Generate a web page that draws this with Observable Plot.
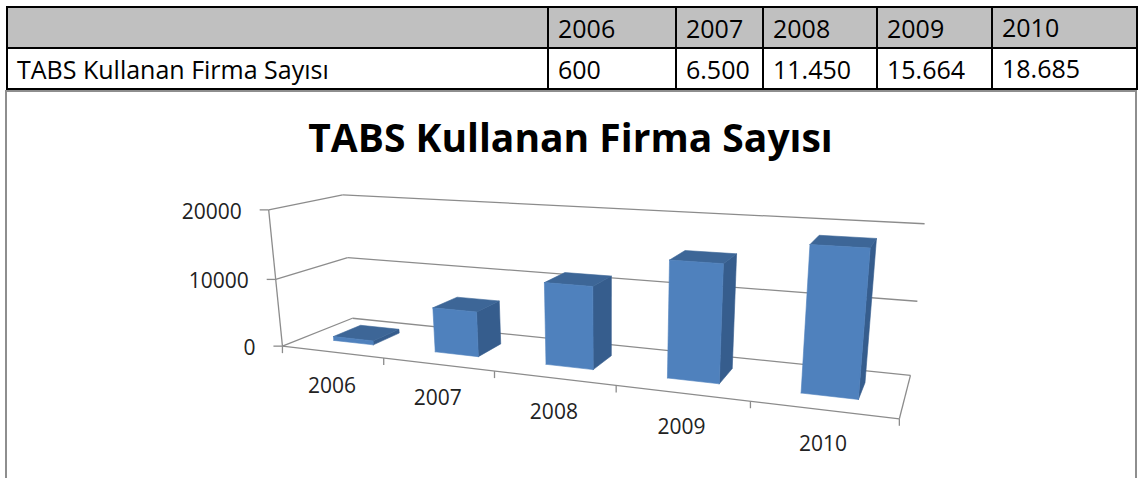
<!DOCTYPE html>
<html>
<head>
<meta charset="utf-8">
<script src="https://cdn.jsdelivr.net/npm/d3@7"></script>
<script src="https://cdn.jsdelivr.net/npm/@observablehq/plot@0.6"></script>
<style>
  html, body { margin: 0; padding: 0; background: #fff; width: 1141px; height: 478px; overflow: hidden; font-family: "Open Sans", sans-serif; }
  #tbl { position: absolute; left: 6px; top: 6px; border-collapse: collapse; table-layout: fixed; width: 1132px; z-index: 3; }
  #tbl td { border: 2px solid #000; padding: 0 0 0 9px; font-size: 25px; color: #000; white-space: nowrap; overflow: hidden; }
  #tbl tr { height: 41px; }
  #tbl tr.head td { background: #c0c0c0; }
  #box { position: absolute; left: 5px; top: 90px; width: 1128px; height: 400px; border: 2px solid #8e8e8e; z-index: 0; }
  #title { position: absolute; left: 0; top: 117px; width: 1141px; text-align: center; font-weight: 700; font-size: 39px; line-height: 1; color: #000; z-index: 2; }
  #chart { position: absolute; left: 0; top: 0; z-index: 1; }
</style>
</head>
<body>
<table id="tbl">
  <colgroup>
    <col style="width:541px"><col style="width:128px"><col style="width:87px"><col style="width:114px"><col style="width:115px"><col style="width:145px">
  </colgroup>
  <tbody></tbody>
</table>
<div id="box"></div>
<div id="title"></div>
<div id="chart"></div>
<script>
// ---- data ----
const seriesName = "TABS Kullanan Firma Sayısı";
const years = [2006, 2007, 2008, 2009, 2010];
const values = [600, 6500, 11450, 15664, 18685];
const yTicks = [0, 10000, 20000];

// ---- layout (3D frame calibration: world [X category units, Y value, Z depth] -> page px) ----
const frameAnchors = [
  {X: 0, Y: 0, Z: 0, u: 282, v: 346},
  {X: 0, Y: 10000, Z: 0, u: 276, v: 279},
  {X: 0, Y: 20000, Z: 0, u: 268, v: 209},
  {X: 1, Y: 0, Z: 0, u: 383, v: 358},
  {X: 2, Y: 0, Z: 0, u: 493, v: 370},
  {X: 3, Y: 0, Z: 0, u: 616, v: 385},
  {X: 4, Y: 0, Z: 0, u: 750, v: 401},
  {X: 5, Y: 0, Z: 0, u: 899, v: 418},
  {X: 0, Y: 0, Z: 1, u: 352, v: 318},
  {X: 0, Y: 20000, Z: 1, u: 342, v: 194},
  {X: 5, Y: 0, Z: 1, u: 910, v: 374},
  {X: 5, Y: 10000, Z: 1, u: 917, v: 301},
  {X: 5, Y: 20000, Z: 1, u: 924, v: 224}
];
const barGap = 0.3;      // fraction of category on each side of a bar
const depthGap = 0.3;    // fraction of depth in front of / behind a bar
const colors = {front: "#4f81bd", side: "#365d8d", top: "#3d6697", grid: "#8c8c8c", text: "#222"};

// ---- table ----
const trFormat = d3.formatLocale({decimal: ",", thousands: ".", grouping: [3], currency: ["", " TL"]}).format(",d");
const tbody = document.querySelector("#tbl tbody");
const head = document.createElement("tr"); head.className = "head";
head.innerHTML = "<td></td>" + years.map((y, i) => `<td${i === years.length - 1 ? ' style="vertical-align:top;padding-top:2px"' : ""}>${y}</td>`).join("");
const row = document.createElement("tr");
row.innerHTML = `<td>${seriesName}</td>` + values.map((v, i) => `<td${i === values.length - 1 ? ' style="vertical-align:top;padding-top:2px"' : ""}>${trFormat(v)}</td>`).join("");
tbody.append(head, row);
document.getElementById("title").textContent = seriesName;

// ---- projective camera fitted to the frame (DLT least squares) ----
function fitCamera(anchors) {
  const rows = [], rhs = [];
  for (const a of anchors) {
    const X = a.X, Y = a.Y / 10000, Z = a.Z, u = (a.u - 600) / 300, v = (a.v - 300) / 300;
    rows.push([X, Y, Z, 1, 0, 0, 0, 0, -u * X, -u * Y, -u * Z]); rhs.push(u);
    rows.push([0, 0, 0, 0, X, Y, Z, 1, -v * X, -v * Y, -v * Z]); rhs.push(v);
  }
  const n = 11;
  const M = Array.from({length: n}, () => new Array(n + 1).fill(0));
  rows.forEach((r, k) => {
    for (let i = 0; i < n; i++) {
      for (let j = 0; j < n; j++) M[i][j] += r[i] * r[j];
      M[i][n] += r[i] * rhs[k];
    }
  });
  for (let c = 0; c < n; c++) {
    let p = c;
    for (let r = c + 1; r < n; r++) if (Math.abs(M[r][c]) > Math.abs(M[p][c])) p = r;
    [M[c], M[p]] = [M[p], M[c]];
    for (let r = 0; r < n; r++) {
      if (r === c) continue;
      const f = M[r][c] / M[c][c];
      for (let j = c; j <= n; j++) M[r][j] -= f * M[c][j];
    }
  }
  const p = M.map((r, i) => r[n] / r[i]);
  return (X, V, Z) => {
    const Y = V / 10000;
    const w = p[8] * X + p[9] * Y + p[10] * Z + 1;
    return [(p[0] * X + p[1] * Y + p[2] * Z + p[3]) / w * 300 + 600,
            (p[4] * X + p[5] * Y + p[6] * Z + p[7]) / w * 300 + 300];
  };
}
const P = fitCamera(frameAnchors);
const nCat = years.length;
const yMax = d3.max(yTicks);

// grid / frame segments
const segs = [];
yTicks.forEach(t => {
  segs.push({a: [0, t, 0], b: [0, t, 1]});
  segs.push({a: [0, t, 1], b: [nCat, t, 1]});
});
segs.push({a: [nCat, 0, 1], b: [nCat, 0, 0]});
segs.push({a: [0, 0, 0], b: [nCat, 0, 0]});
segs.push({a: [0, 0, 0], b: [0, yMax, 0]});
const segPx = segs.map(s => { const p = P(...s.a), q = P(...s.b); return {x1: p[0], y1: p[1], x2: q[0], y2: q[1]}; });

// value ticks & labels
const vt = yTicks.map(t => { const p = P(0, t, 0); return {t, x: p[0], y: p[1]}; });
// category boundary ticks
const ct = d3.range(nCat + 1).map(k => { const p = P(k, 0, 0); return {x: p[0], y: p[1]}; });
// category labels
const cl = years.map((yr, i) => { const p = P(i + 0.5, 0, 0); return {label: String(yr), x: p[0], y: p[1]}; });

// bar faces
const faces = [];
years.forEach((yr, i) => {
  const v = values[i];
  const x0 = i + barGap, x1 = i + 1 - barGap, z0 = depthGap, z1 = 1 - depthGap;
  const quad = (name, pts, fill) => {
    pts.concat([pts[0]]).forEach(pt => { const q = P(...pt); faces.push({id: `${yr}-${name}`, x: q[0], y: q[1], fill}); });
  };
  quad("side", [[x1, 0, z0], [x1, 0, z1], [x1, v, z1], [x1, v, z0]], colors.side);
  quad("top", [[x0, v, z0], [x1, v, z0], [x1, v, z1], [x0, v, z1]], colors.top);
  quad("front", [[x0, 0, z0], [x1, 0, z0], [x1, v, z0], [x0, v, z0]], colors.front);
});

const W = 1141, H = 478;
const chart = Plot.plot({
  width: W, height: H, margin: 0,
  x: {type: "linear", domain: [0, W], range: [0, W], axis: null},
  y: {type: "linear", domain: [0, H], range: [0, H], axis: null},
  color: {type: "identity"},
  style: {background: "transparent", fontFamily: "'Open Sans', sans-serif", color: colors.text},
  marks: [
    Plot.link(segPx, {x1: "x1", y1: "y1", x2: "x2", y2: "y2", stroke: colors.grid, strokeWidth: 1.3}),
    Plot.link(vt, {x1: d => d.x - 9, y1: "y", x2: "x", y2: "y", stroke: colors.grid, strokeWidth: 1.3}),
    Plot.link(ct, {x1: "x", y1: "y", x2: "x", y2: d => d.y + 7, stroke: colors.grid, strokeWidth: 1.3}),
    Plot.text(vt, {x: "x", y: "y", text: d => String(d.t), textAnchor: "end", dx: -27, dy: 2, fontSize: 21, fill: colors.text}),
    Plot.text(cl, {x: "x", y: "y", text: "label", dy: 34, fontSize: 21, fill: colors.text}),
    Plot.line(faces, {x: "x", y: "y", z: "id", fill: "fill", stroke: "fill", strokeWidth: 0.6, curve: "linear"})
  ]
});
document.getElementById("chart").append(chart);
</script>
</body>
</html>
